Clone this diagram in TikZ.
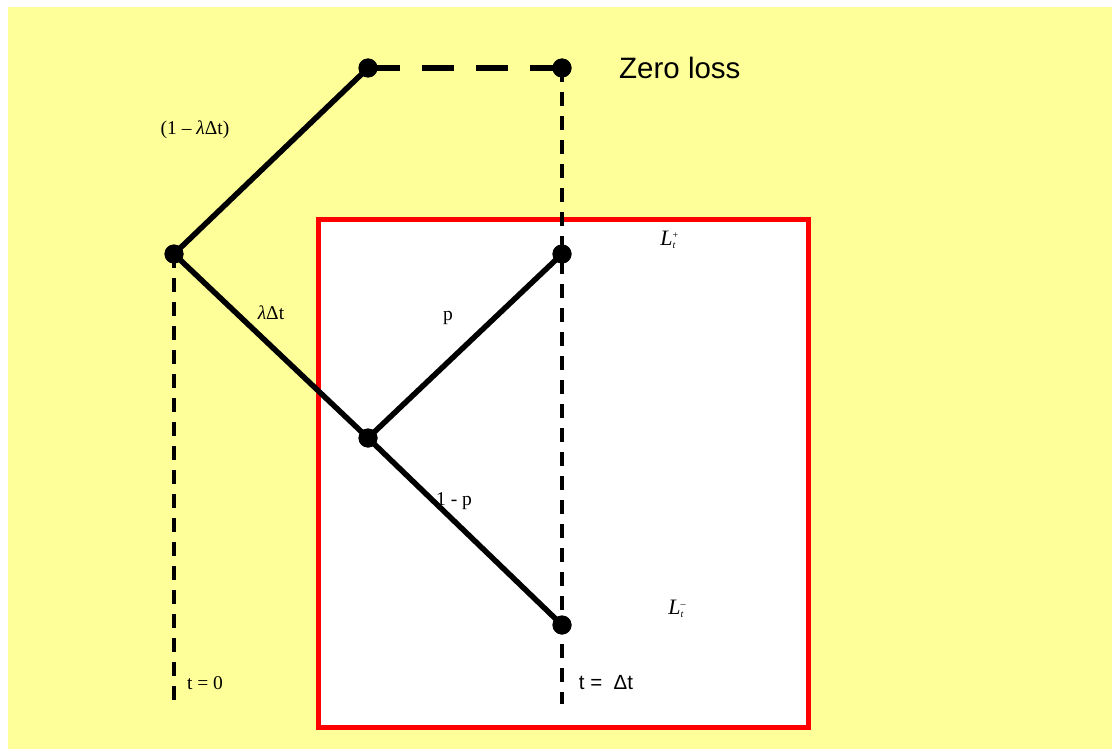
\documentclass[tikz,border=0pt]{standalone}
\usepackage{fontspec}
\setmainfont{Liberation Serif}
\setsansfont{Liberation Sans}
\newcommand{\Lsym}[1]{\textit{L}\rlap{\raisebox{7pt}{\fontsize{10}{10}\selectfont #1}}\raisebox{-3pt}{\fontsize{10}{10}\selectfont\textit{t}}}
\begin{document}
\begin{tikzpicture}[x=1pt,y=-1pt,
  dot/.style={circle,fill=black,inner sep=0pt,minimum size=19pt},
  branch/.style={line width=5.5pt},
  vdash/.style={line width=3.3pt,dash pattern=on 14pt off 10pt},
  hdash/.style={line width=5.5pt,dash pattern=on 32pt off 22pt},
  lab/.style={font=\fontsize{19.5}{22}\selectfont,inner sep=0pt},
  slab/.style={font=\sffamily\fontsize{20.5}{22}\selectfont,inner sep=0pt}]
\useasboundingbox (0,0) rectangle (1112,752);
\fill[fill={rgb,255:red,255;green,255;blue,153}] (8,7) rectangle (1112,749);
\draw[line width=5pt,draw={rgb,255:red,255;green,0;blue,0},fill=white] (318,219) rectangle (808,727);
\node[dot] (A) at (174,254) {};
\node[dot] (B) at (368,68) {};
\node[dot] (C) at (562,68) {};
\node[dot] (D) at (562,254) {};
\node[dot] (E) at (368,438) {};
\node[dot] (F) at (562,625) {};
\coordinate (A0) at (174,710);
\coordinate (C0) at (562,704);
\draw[vdash] (A.center) -- (A0);
\draw[vdash] (C.center) -- (C0);
\draw[hdash] (B.center) -- (C.center);
\draw[branch] (A.center) -- (B.center);
\draw[branch] (A.center) -- (E.center);
\draw[branch] (E.center) -- (D.center);
\draw[branch] (E.center) -- (F.center);
\node[dot] at (A) {};
\node[dot] at (B) {};
\node[dot] at (C) {};
\node[dot] at (D) {};
\node[dot] at (E) {};
\node[dot] at (F) {};
\node[font=\sffamily\fontsize{29.5}{32}\selectfont,anchor=west,inner sep=0pt] (zl) at (619,68) {Zero loss};
\node[lab] (l1) at (195,130) {(1 – \textit{λ}Δt)};
\node[lab] (l2) at (271,313) {\textit{λ}Δt};
\node[lab] (l3) at (448,318) {p};
\node[lab] (l4) at (454,501) {1 - p};
\node[font=\fontsize{22}{24}\selectfont,inner sep=0pt] (lp) at (668,240) {\Lsym{+}};
\node[font=\fontsize{22}{24}\selectfont,inner sep=0pt] (lm) at (676,609) {\Lsym{–}};
\node[lab] (t0) at (205,683) {t = 0};
\node[slab] (t1) at (606,683) {t =\ \ Δt};
\end{tikzpicture}
\end{document}
